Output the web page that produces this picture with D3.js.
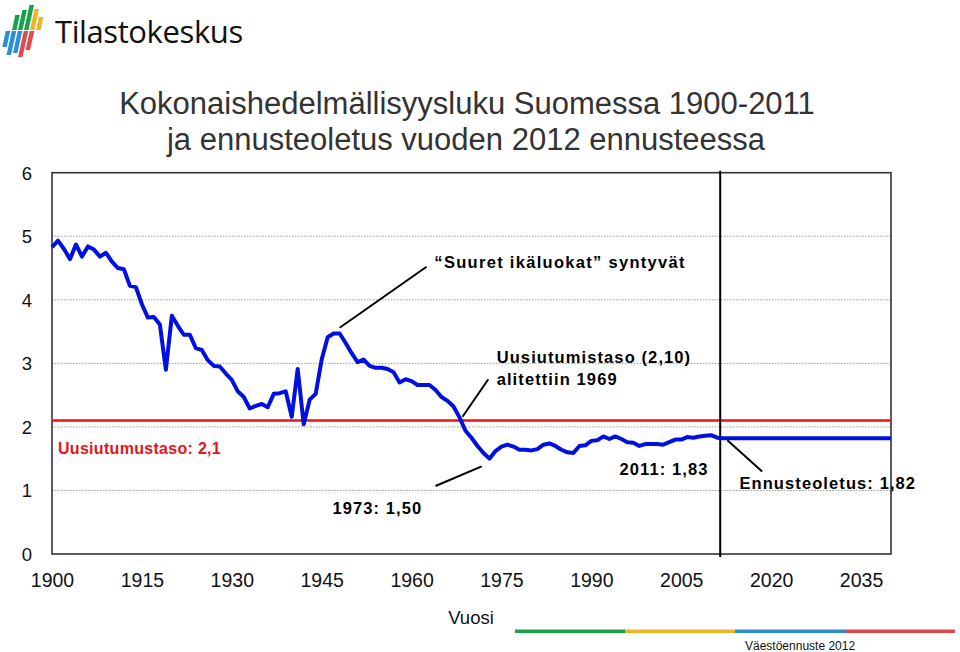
<!DOCTYPE html>
<html><head><meta charset="utf-8">
<script src="https://cdn.jsdelivr.net/npm/d3@7"></script>
<style>body{margin:0;background:#fff}svg{display:block}</style>
</head><body>
<svg id="c" width="960" height="652"></svg>
<script>
const years = d3.range(1900, 2012);
const tfr = [4.83,4.93,4.80,4.64,4.87,4.68,4.84,4.79,4.68,4.74,
4.60,4.50,4.48,4.22,4.20,3.93,3.72,3.73,3.61,2.90,
3.75,3.59,3.45,3.45,3.24,3.21,3.05,2.96,2.95,2.84,
2.74,2.56,2.47,2.29,2.33,2.36,2.31,2.52,2.53,2.56,
2.16,2.91,2.04,2.43,2.52,3.06,3.41,3.47,3.47,3.32,
3.16,3.02,3.06,2.96,2.93,2.93,2.91,2.86,2.70,2.75,
2.72,2.66,2.66,2.66,2.58,2.47,2.41,2.32,2.15,1.94,
1.83,1.70,1.59,1.50,1.62,1.69,1.72,1.69,1.64,1.64,
1.63,1.65,1.72,1.74,1.70,1.64,1.60,1.59,1.70,1.71,
1.78,1.79,1.85,1.81,1.85,1.81,1.76,1.75,1.70,1.73,
1.73,1.73,1.72,1.76,1.80,1.80,1.84,1.83,1.85,1.86,
1.87,1.83];
const forecastYears = d3.range(2012, 2041);
const forecastValue = 1.82;
const replacementLevel = 2.1;
const xTicks = [1900,1915,1930,1945,1960,1975,1990,2005,2020,2035];
const yTicks = [0,1,2,3,4,5,6];
const forecastStart = 2011.5;

const svg = d3.select("#c");
const x = d3.scaleLinear().domain([1900,2040]).range([52,891]);
const y = d3.scaleLinear().domain([0,6]).range([554,172.7]);
const FONT = "Liberation Sans, Arial, sans-serif";

// logo
const logo = svg.append("g");
const bars = [
  {x:12,y1:15,y2:30,c:"#1aa04a"},{x:18,y1:10,y2:30,c:"#1aa04a"},{x:24,y1:5,y2:30,c:"#1aa04a"},
  {x:30,y1:9,y2:30,c:"#f0b429"},{x:36,y1:17,y2:30,c:"#f0b429"},
  {x:6,y1:31,y2:47,c:"#2b8fd8"},{x:12,y1:31,y2:55,c:"#2b8fd8"},{x:18,y1:31,y2:53,c:"#2b8fd8"},
  {x:24,y1:31,y2:57,c:"#e04a4a"},{x:30,y1:31,y2:50,c:"#e04a4a"}
];
bars.forEach(b=>{
  const s=0.22, w=4.5;
  logo.append("path").attr("fill",b.c)
    .attr("d",`M${b.x+(30-b.y1)*s},${b.y1} L${b.x+w+(30-b.y1)*s},${b.y1} L${b.x+w+(30-b.y2)*s},${b.y2} L${b.x+(30-b.y2)*s},${b.y2} Z`);
});
logo.append("text").attr("x",55).attr("y",43).attr("font-family","Open Sans, Noto Sans, sans-serif")
  .attr("font-size",31).attr("fill","#111").attr("letter-spacing",-0.4).text("Tilastokeskus");

// title
const title = svg.append("text").attr("font-family",FONT).attr("font-size",31).attr("fill","#333").attr("text-anchor","middle");
title.append("tspan").attr("x",467).attr("y",114).text("Kokonaishedelmällisyysluku Suomessa 1900-2011");
title.append("tspan").attr("x",466).attr("y",150).text("ja ennusteoletus vuoden 2012 ennusteessa");

// gridlines
svg.append("g").selectAll("line").data(yTicks.filter(d=>d>0&&d<6)).join("line")
  .attr("x1",x(1900)).attr("x2",x(2040)).attr("y1",d=>y(d)).attr("y2",d=>y(d))
  .attr("stroke","#9a9a9a").attr("stroke-width",1).attr("stroke-dasharray","1.5,1.5");

// frame
svg.append("rect").attr("x",x(1900)).attr("y",y(6)).attr("width",x(2040)-x(1900)).attr("height",y(0)-y(6))
  .attr("fill","none").attr("stroke","#333").attr("stroke-width",1.6);

// y axis labels
svg.append("g").selectAll("text").data(yTicks).join("text")
  .attr("x",27).attr("y",d=>y(d)+7).attr("text-anchor","middle")
  .attr("font-family",FONT).attr("font-size",18.5).attr("fill","#111").text(d=>d);

// x axis labels
const xAxis = d3.axisBottom(x).tickValues(xTicks).tickSize(0).tickPadding(0).tickFormat(d3.format("d"));
const xg = svg.append("g").attr("transform",`translate(0,${y(0)+33})`).call(xAxis);
xg.select(".domain").remove();
xg.selectAll("text").attr("font-family",FONT).attr("font-size",19.5).attr("fill","#111").attr("dy",0);
svg.append("text").attr("x",471).attr("y",624).attr("text-anchor","middle")
  .attr("font-family",FONT).attr("font-size",18.5).attr("fill","#111").text("Vuosi");

// replacement level
svg.append("line").attr("x1",x(1900)).attr("x2",x(2040)).attr("y1",y(replacementLevel)).attr("y2",y(replacementLevel))
  .attr("stroke","#e8141a").attr("stroke-width",2.5);

// forecast divider
svg.append("line").attr("x1",x(forecastStart)).attr("x2",x(forecastStart)).attr("y1",y(6)-2).attr("y2",y(0)+3)
  .attr("stroke","#000").attr("stroke-width",2);

// data line
const series = years.map((yr,i)=>({yr,v:tfr[i]})).concat(forecastYears.map(yr=>({yr,v:forecastValue})));
svg.append("path").datum(series).attr("fill","none").attr("stroke","#0010e0").attr("stroke-width",4)
  .attr("stroke-linejoin","round")
  .attr("d",d3.line().x(d=>x(d.yr)).y(d=>y(d.v)));

// annotations
const ann = (tx,ty,str,opts={})=>svg.append("text").attr("x",tx).attr("y",ty)
  .attr("font-family",FONT).attr("font-weight","bold").attr("font-size",opts.size||16.5)
  .attr("letter-spacing",opts.ls==null?1.1:opts.ls).attr("fill",opts.color||"#000").text(str);
const lead = (x1,y1,x2,y2)=>svg.append("line").attr("x1",x1).attr("y1",y1).attr("x2",x2).attr("y2",y2)
  .attr("stroke","#000").attr("stroke-width",2);

ann(x(1963.8),y(4.6)+6,"“Suuret ikäluokat” syntyvät",{ls:1.3});
lead(x(1948),y(3.56),x(1962.5),y(4.52));
ann(x(1974.2),y(3.1)+6,"Uusiutumistaso (2,10)");
ann(x(1974.2),y(2.75)+6,"alitettiin 1969");
lead(x(1968.5),y(2.16),x(1972.8),y(2.75));
ann(x(1901),y(1.67)+6,"Uusiutumustaso: 2,1",{color:"#e8141a",ls:0.3,size:16});
ann(x(1946.8),y(0.73)+6,"1973: 1,50");
lead(x(1964),y(1.07),x(1971.7),y(1.38));
ann(x(1994.7),y(1.34)+6,"2011: 1,83");
ann(x(2014.7),y(1.12)+6,"Ennusteoletus: 1,82");
lead(x(2012.7),y(1.79),x(2018.5),y(1.3));

// footer
const footColors = ["#1aa04a","#f0b429","#2b8fd8","#e04a4a"];
svg.append("g").selectAll("rect").data(footColors).join("rect")
  .attr("x",(d,i)=>515+i*110).attr("y",629.5).attr("width",110).attr("height",3.5).attr("fill",d=>d);
svg.append("text").attr("x",745).attr("y",650).attr("font-family",FONT).attr("font-size",12).attr("fill","#111")
  .text("Väestöennuste 2012");
</script>
</body></html>
